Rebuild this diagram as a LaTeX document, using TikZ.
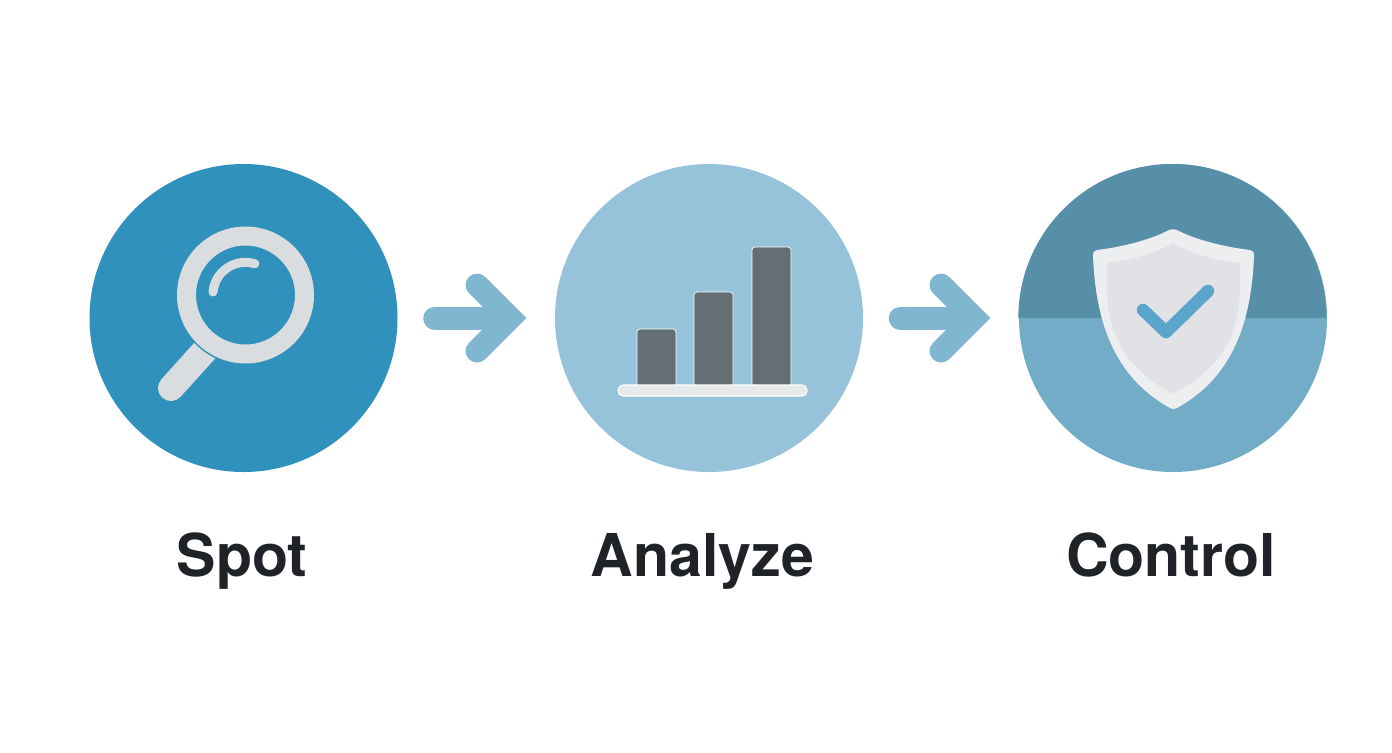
\documentclass[tikz,border=0pt]{standalone}
\usepackage{fontspec}
\setmainfont{TeX Gyre Heros}
\usetikzlibrary{arrows.meta}
\definecolor{spotblue}{HTML}{3091BC}
\definecolor{analyzeblue}{HTML}{97C3DA}
\definecolor{controltop}{HTML}{578EA8}
\definecolor{controlbottom}{HTML}{72ACC6}
\definecolor{arrowblue}{HTML}{80B6CF}
\definecolor{lensgray}{HTML}{DADDE0}
\definecolor{bargray}{HTML}{636E75}
\definecolor{basegray}{HTML}{E8E9EA}
\definecolor{shieldouter}{HTML}{EDEEF0}
\definecolor{shieldinner}{HTML}{E0E2E5}
\definecolor{checkblue}{HTML}{5BA4CC}
\definecolor{labelblack}{HTML}{1F2328}
\tikzset{
	stagecircle/.style={circle, minimum size=3.08cm, inner sep=0pt},
	stagelabel/.style={anchor=base, text=labelblack, font=\fontsize{16.8}{20}\selectfont\bfseries},
	flowarrow/.style={arrowblue, line width=0.23cm, line cap=round, shorten <=0.365cm, shorten >=0.28cm,
		-{Straight Barb[length=0.33cm, width=0.66cm, line width=0.23cm, line cap=round, line join=miter]}},
	barstyle/.style={fill=bargray, draw=white, line width=0.2pt, rounded corners=0.03cm}
}
\newcommand{\chartbar}[3] % left, right, top in cm
{
	\draw[barstyle] (#1,3.65) -- (#1,#3) -- (#2,#3) -- (#2,3.65) -- cycle;
}

\begin{document}
\begin{tikzpicture}
	\useasboundingbox (0,0) rectangle (13.92,7.52);
	% stages
	\node[stagecircle, fill=spotblue] (spot) at (2.435,4.34) {};
	\node[stagecircle, fill=analyzeblue] (analyze) at (7.09,4.34) {};
	\node[stagecircle, fill=controlbottom] (control) at (11.73,4.34) {};
	\fill[controltop] (control.west) arc (180:0:1.54) -- cycle;
	\draw[flowarrow] (spot) -- (analyze);
	\draw[flowarrow] (analyze) -- (control);

	% magnifier
	\draw[lensgray, line width=0.26cm, line cap=round] (1.71,3.64) -- (2.08,4.05);
	\fill[spotblue] (2.455,4.57) circle (0.70);
	\draw[lensgray, line width=0.19cm] (2.455,4.57) circle (0.59);
	\draw[lensgray, line width=0.09cm, line cap=round] (2.13,4.60) arc (175:73:0.325);

	% chart
	\chartbar{6.37}{6.76}{4.23}
	\chartbar{6.94}{7.33}{4.60}
	\chartbar{7.52}{7.91}{5.05}
	\draw[fill=basegray, draw=white, line width=0.3pt, rounded corners=0.05cm] (6.18,3.56) rectangle (8.07,3.67);

	% shield
	\fill[shieldouter] (11.66,5.205) .. controls (11.71,5.235) and (11.75,5.235) .. (11.80,5.205)
		.. controls (11.97,5.12) and (12.25,5.05) .. (12.50,5.02)
		.. controls (12.53,5.015) and (12.54,5.0) .. (12.54,4.96)
		.. controls (12.51,4.2) and (12.27,3.72) .. (11.77,3.44)
		.. controls (11.75,3.425) and (11.72,3.425) .. (11.70,3.44)
		.. controls (11.2,3.72) and (10.96,4.2) .. (10.93,4.96)
		.. controls (10.93,5.0) and (10.94,5.015) .. (10.97,5.02)
		.. controls (11.22,5.05) and (11.49,5.12) .. (11.66,5.205) -- cycle;
	\fill[shieldinner] (11.73,5.09) .. controls (11.55,4.98) and (11.3,4.92) .. (11.07,4.89)
		-- (11.07,4.6) .. controls (11.09,4.1) and (11.3,3.82) .. (11.73,3.58)
		.. controls (12.16,3.82) and (12.38,4.1) .. (12.40,4.6)
		-- (12.40,4.89) .. controls (12.16,4.92) and (11.91,4.98) .. (11.73,5.09) -- cycle;
	\draw[checkblue, line width=0.125cm, line cap=round, line join=round] (11.43,4.42) -- (11.66,4.20) -- (12.08,4.61);

	% labels
	\node[stagelabel] (spotlabel) at (2.42,1.76) {Spot};
	\node[stagelabel] (analyzelabel) at (7.025,1.76) {Analyze};
	\node[stagelabel] (controllabel) at (11.71,1.76) {Control};
\end{tikzpicture}
\end{document}
